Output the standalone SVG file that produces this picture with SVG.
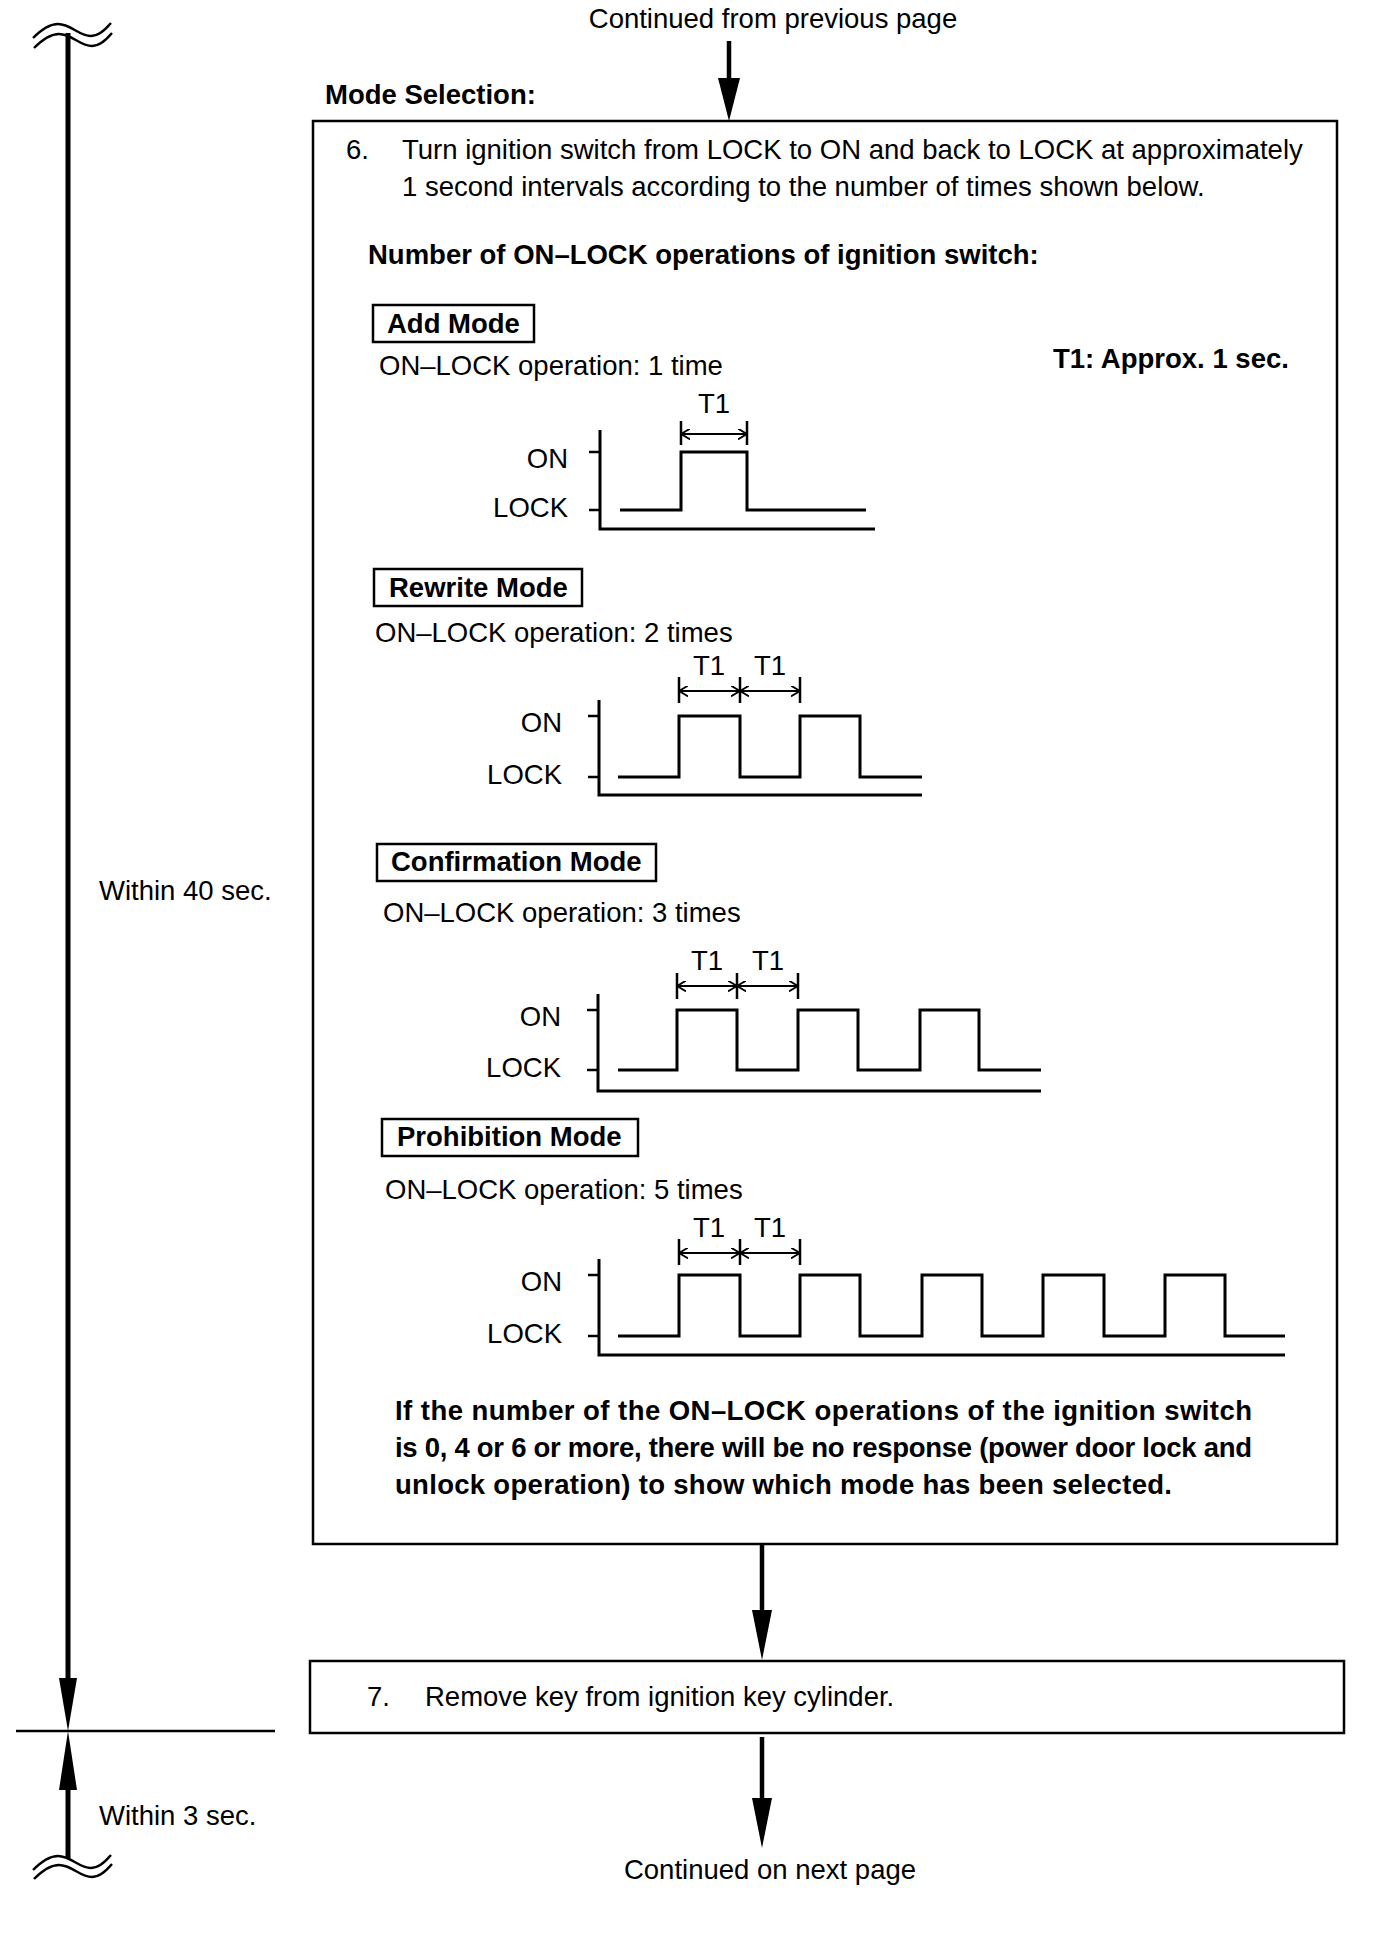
<svg xmlns="http://www.w3.org/2000/svg" width="1392" height="1948" viewBox="0 0 1392 1948">
<style>
.t{font-family:"Liberation Sans",Arial,sans-serif;font-size:27.5px;fill:#000}
.b{font-weight:bold}
.box{fill:none;stroke:#000;stroke-width:2.5}
.wave{fill:none;stroke:#000;stroke-width:3}
.axis{fill:none;stroke:#000;stroke-width:3}
.tick{fill:none;stroke:#000;stroke-width:2.5}
.dim{fill:none;stroke:#000;stroke-width:2;marker-start:url(#chev);marker-end:url(#chev)}
.thick{fill:none;stroke:#000;stroke-width:4.5}
.head{fill:#000}
.sq{fill:none;stroke:#000;stroke-width:2.4}
</style>
<defs>
<marker id="chev" viewBox="0 0 10 12" refX="10" refY="6" markerWidth="9" markerHeight="11" markerUnits="userSpaceOnUse" orient="auto-start-reverse">
<path d="M0,0 L10,6 L0,12" fill="none" stroke="#000" stroke-width="2"/>
</marker>
<path id="squig" d="M0,14 C8,6 16,0 25,0 C38,0 46,12 58,12 C66,12 72,6 78,-1"/>
</defs>

<g id="timeline">
<use href="#squig" class="sq" transform="translate(33,24)"/>
<use href="#squig" class="sq" transform="translate(34,34)"/>
<line x1="68" y1="33" x2="68" y2="1690" stroke="#000" stroke-width="5"/>
<polygon class="head" points="59,1678 77,1678 68,1731"/>
<line x1="16" y1="1731" x2="275" y2="1731" stroke="#000" stroke-width="2.5"/>
<polygon class="head" points="59,1790 77,1790 68,1731"/>
<line x1="68" y1="1780" x2="68" y2="1858" stroke="#000" stroke-width="5"/>
<use href="#squig" class="sq" transform="translate(33,1856)"/>
<use href="#squig" class="sq" transform="translate(34,1865)"/>
<text class="t" x="99" y="900">Within 40 sec.</text>
<text class="t" x="99" y="1825">Within 3 sec.</text>
</g>

<g id="connectors">
<text class="t" x="773" y="28" text-anchor="middle">Continued from previous page</text>
<line class="thick" x1="729" y1="41" x2="729" y2="82"/>
<polygon class="head" points="718,78 740,78 729,121"/>
<line class="thick" x1="762" y1="1544" x2="762" y2="1614"/>
<polygon class="head" points="752,1610 772,1610 762,1660"/>
<line class="thick" x1="762" y1="1737" x2="762" y2="1802"/>
<polygon class="head" points="752,1798 772,1798 762,1848"/>
<text class="t" x="770" y="1879" text-anchor="middle">Continued on next page</text>
</g>

<g id="step6">
<text class="t b" x="325" y="104">Mode Selection:</text>
<rect class="box" x="313" y="121" width="1024" height="1423"/>
<text class="t" x="346" y="159">6.</text>
<text class="t" x="402" y="159">Turn ignition switch from LOCK to ON and back to LOCK at approximately</text>
<text class="t" x="402" y="196">1 second intervals according to the number of times shown below.</text>
<text class="t b" x="368" y="264">Number of ON–LOCK operations of ignition switch:</text>
<text class="t b" x="1053" y="368">T1: Approx. 1 sec.</text>
<text class="t b" x="395" y="1420" textLength="857">If the number of the ON–LOCK operations of the ignition switch</text>
<text class="t b" x="395" y="1457" textLength="857">is 0, 4 or 6 or more, there will be no response (power door lock and</text>
<text class="t b" x="395" y="1494" textLength="777">unlock operation) to show which mode has been selected.</text>
</g>

<g id="add-mode">
<rect class="box" x="373" y="305" width="161" height="37"/>
<text class="t b" x="387" y="333">Add Mode</text>
<text class="t" x="379" y="375">ON–LOCK operation: 1 time</text>
<text class="t" x="714" y="413" text-anchor="middle">T1</text>
<path class="tick" d="M681,421 V445 M747,421 V445"/>
<line class="dim" x1="681" y1="434" x2="747" y2="434"/>
<path class="axis" d="M600,430 V529 H875"/>
<path class="tick" d="M589,452 H600 M589,510 H600"/>
<text class="t" x="568" y="468" text-anchor="end">ON</text>
<text class="t" x="568" y="517" text-anchor="end">LOCK</text>
<path class="wave" d="M620,510 H681 V452 H747 V510 H866"/>
</g>

<g id="rewrite-mode">
<rect class="box" x="374" y="569" width="208" height="37"/>
<text class="t b" x="389" y="597">Rewrite Mode</text>
<text class="t" x="375" y="642">ON–LOCK operation: 2 times</text>
<text class="t" x="709" y="675" text-anchor="middle">T1</text>
<text class="t" x="770" y="675" text-anchor="middle">T1</text>
<path class="tick" d="M679,677 V703 M740,677 V703 M800,677 V703"/>
<line class="dim" x1="679" y1="691" x2="740" y2="691"/>
<line class="dim" x1="740" y1="691" x2="800" y2="691"/>
<path class="axis" d="M599,700 V795 H922"/>
<path class="tick" d="M588,716 H599 M588,777 H599"/>
<text class="t" x="562" y="732" text-anchor="end">ON</text>
<text class="t" x="562" y="784" text-anchor="end">LOCK</text>
<path class="wave" d="M618,777 H679 V716 H740 V777 H800 V716 H860 V777 H922"/>
</g>

<g id="confirmation-mode">
<rect class="box" x="377" y="844" width="279" height="37"/>
<text class="t b" x="391" y="871">Confirmation Mode</text>
<text class="t" x="383" y="922">ON–LOCK operation: 3 times</text>
<text class="t" x="707" y="970" text-anchor="middle">T1</text>
<text class="t" x="768" y="970" text-anchor="middle">T1</text>
<path class="tick" d="M677,973 V999 M737,973 V999 M798,973 V999"/>
<line class="dim" x1="677" y1="986" x2="737" y2="986"/>
<line class="dim" x1="737" y1="986" x2="798" y2="986"/>
<path class="axis" d="M598,994 V1091 H1041"/>
<path class="tick" d="M587,1010 H598 M587,1070 H598"/>
<text class="t" x="561" y="1026" text-anchor="end">ON</text>
<text class="t" x="561" y="1077" text-anchor="end">LOCK</text>
<path class="wave" d="M618,1070 H677 V1010 H737 V1070 H798 V1010 H858 V1070 H920 V1010 H979 V1070 H1041"/>
</g>

<g id="prohibition-mode">
<rect class="box" x="382" y="1119" width="256" height="37"/>
<text class="t b" x="397" y="1146">Prohibition Mode</text>
<text class="t" x="385" y="1199">ON–LOCK operation: 5 times</text>
<text class="t" x="709" y="1237" text-anchor="middle">T1</text>
<text class="t" x="770" y="1237" text-anchor="middle">T1</text>
<path class="tick" d="M679,1239 V1265 M740,1239 V1265 M800,1239 V1265"/>
<line class="dim" x1="679" y1="1253" x2="740" y2="1253"/>
<line class="dim" x1="740" y1="1253" x2="800" y2="1253"/>
<path class="axis" d="M599,1259 V1355 H1285"/>
<path class="tick" d="M588,1275 H599 M588,1336 H599"/>
<text class="t" x="562" y="1291" text-anchor="end">ON</text>
<text class="t" x="562" y="1343" text-anchor="end">LOCK</text>
<path class="wave" d="M618,1336 H679 V1275 H740 V1336 H800 V1275 H860 V1336 H922 V1275 H982 V1336 H1043 V1275 H1104 V1336 H1165 V1275 H1225 V1336 H1285"/>
</g>

<g id="step7">
<rect class="box" x="310" y="1661" width="1034" height="72"/>
<text class="t" x="367" y="1706">7.</text>
<text class="t" x="425" y="1706">Remove key from ignition key cylinder.</text>
</g>
</svg>
